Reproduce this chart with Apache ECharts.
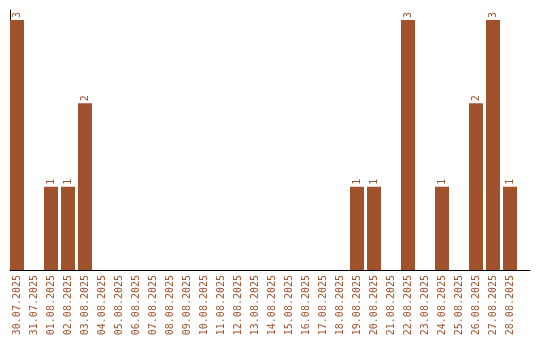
<!DOCTYPE html>
<html><head><meta charset="utf-8">
<script src="https://cdn.jsdelivr.net/npm/echarts@6/dist/echarts.min.js"></script>
<style>html,body{margin:0;padding:0;background:#fff}#c{width:540px;height:340px}</style>
</head><body><div id="c"></div>
<script>
var categories = ["30.07.2025","31.07.2025","01.08.2025","02.08.2025","03.08.2025","04.08.2025","05.08.2025","06.08.2025","07.08.2025","08.08.2025","09.08.2025","10.08.2025","11.08.2025","12.08.2025","13.08.2025","14.08.2025","15.08.2025","16.08.2025","17.08.2025","18.08.2025","19.08.2025","20.08.2025","21.08.2025","22.08.2025","23.08.2025","24.08.2025","25.08.2025","26.08.2025","27.08.2025","28.08.2025"];
var counts = [3,0,1,1,2,0,0,0,0,0,0,0,0,0,0,0,0,0,0,0,1,1,0,3,0,1,0,2,3,1];
var brown = '#a0522d';
var font = 'DejaVu Sans Mono';
var chart = echarts.init(document.getElementById('c'), null, {renderer:'canvas'});
chart.setOption({
  animation:false,
  grid:[
    {left:8.5, width:510, top:10, bottom:70},
    {left:10, right:10, top:10, bottom:70}
  ],
  xAxis:[
    {type:'category', gridIndex:0, data:categories, boundaryGap:true,
     axisLine:{show:false}, axisTick:{show:false},
     axisLabel:{interval:0, rotate:90, margin:5, color:brown, fontFamily:font, fontSize:10}},
    {type:'value', gridIndex:1, min:0, max:1, axisLine:{show:true, lineStyle:{color:'#000', width:1}},
     axisTick:{show:false}, axisLabel:{show:false}, splitLine:{show:false}}
  ],
  yAxis:[
    {type:'value', gridIndex:0, min:0, max:3.12, show:false},
    {type:'value', gridIndex:1, min:0, max:1, axisLine:{show:true, lineStyle:{color:'#000', width:1}},
     axisTick:{show:false}, axisLabel:{show:false}, splitLine:{show:false}}
  ],
  series:[{
    type:'bar', xAxisIndex:0, yAxisIndex:0, data:counts, barWidth:14, z:5,
    itemStyle:{color:brown},
    label:{show:true, position:'top', rotate:90, align:'left', verticalAlign:'middle', distance:2,
      color:brown, fontFamily:font, fontSize:10,
      formatter:function(p){return p.value ? String(p.value) : '';}}
  }]
});
</script></body></html>
